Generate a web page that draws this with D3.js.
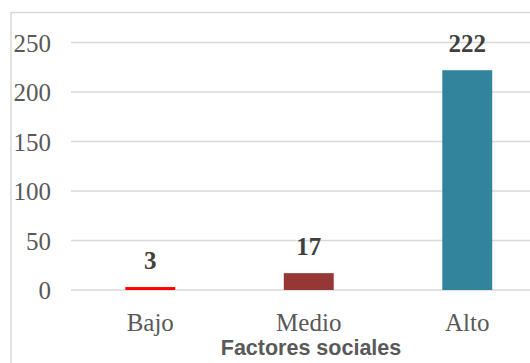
<!DOCTYPE html>
<html>
<head>
<meta charset="utf-8">
<script src="https://cdn.jsdelivr.net/npm/d3@7"></script>
<style>
  html, body { margin: 0; padding: 0; background: #fff; }
  svg { display: block; }
  .serif { font-family: "Liberation Serif", "Times New Roman", Times, serif; }
  .sans { font-family: "Liberation Sans", Arial, sans-serif; }
</style>
</head>
<body>
<svg id="chart" width="530" height="363"></svg>
<script>
// Social factor levels and respondent counts
const categories = ["Bajo", "Medio", "Alto"];
const values = [3, 17, 222];
const barColors = ["#FF0000", "#953735", "#31849B"];
const yTicks = [0, 50, 100, 150, 200, 250];
const xTitle = "Factores sociales";

const svg = d3.select("#chart");
const W = 530, H = 363;
const plot = { left: 71, right: 546.5, top: 42.5, bottom: 290 };

// Chart frame (the area continues past the right and bottom edges)
svg.append("rect")
  .attr("x", 11).attr("y", 12.5)
  .attr("width", W + 20).attr("height", H + 20)
  .attr("fill", "#fff")
  .attr("stroke", "#D9D9D9")
  .attr("stroke-width", 1.5);

const x = d3.scaleBand()
  .domain(categories)
  .range([plot.left, plot.right])
  .paddingInner(0.685)
  .paddingOuter(0.3425);

const y = d3.scaleLinear()
  .domain([0, 250])
  .range([plot.bottom, plot.top]);

// Horizontal gridlines
svg.append("g")
  .selectAll("line")
  .data(yTicks)
  .join("line")
  .attr("x1", plot.left).attr("x2", plot.right)
  .attr("y1", d => y(d)).attr("y2", d => y(d))
  .attr("stroke", "#D9D9D9")
  .attr("stroke-width", 1.5);

// Y axis labels
const yAxis = d3.axisLeft(y).tickValues(yTicks).tickSize(0).tickPadding(20);
const gy = svg.append("g")
  .attr("transform", `translate(${plot.left},0)`)
  .call(yAxis)
  .attr("font-family", null)
  .attr("font-size", null);
gy.select(".domain").remove();
gy.selectAll("text")
  .attr("class", "serif")
  .style("font-size", "25px")
  .attr("fill", "#595959")
  .attr("dy", "0.35em");

// Bars
svg.append("g")
  .selectAll("rect")
  .data(values)
  .join("rect")
  .attr("x", (d, i) => x(categories[i]))
  .attr("width", x.bandwidth())
  .attr("y", d => y(d))
  .attr("height", d => y(0) - y(d))
  .attr("fill", (d, i) => barColors[i]);

// Value labels
svg.append("g")
  .selectAll("text")
  .data(values)
  .join("text")
  .attr("class", "serif")
  .attr("x", (d, i) => x(categories[i]) + x.bandwidth() / 2)
  .attr("y", d => y(d) - 18)
  .attr("text-anchor", "middle")
  .style("font-weight", "bold")
  .style("font-size", "25px")
  .attr("fill", "#404040")
  .text(d => d);

// X axis category labels
const xAxis = d3.axisBottom(x).tickSize(0).tickPadding(0);
const gx = svg.append("g")
  .attr("transform", `translate(0,${plot.bottom})`)
  .call(xAxis)
  .attr("font-family", null)
  .attr("font-size", null);
gx.select(".domain").remove();
gx.selectAll("text")
  .attr("class", "serif")
  .style("font-size", "25px")
  .attr("fill", "#595959")
  .attr("dy", null)
  .attr("y", 41);

// X axis title
svg.append("text")
  .attr("class", "sans")
  .attr("x", 311)
  .attr("y", 355)
  .attr("text-anchor", "middle")
  .style("font-weight", "bold")
  .style("font-size", "21.5px")
  .attr("fill", "#595959")
  .text(xTitle);
</script>
</body>
</html>
